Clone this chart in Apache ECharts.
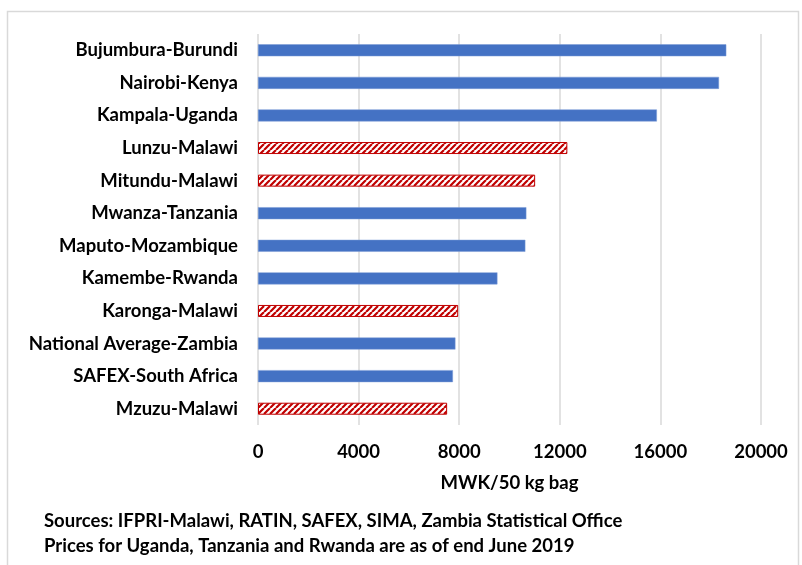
<!DOCTYPE html>
<html><head><meta charset="utf-8">
<script src="https://cdn.jsdelivr.net/npm/echarts@6/dist/echarts.min.js"></script>
<style>html,body{margin:0;padding:0;background:#fff}#c{width:802px;height:565px}</style>
</head><body><div id="c"></div>
<script>
const categories = ["Bujumbura-Burundi","Nairobi-Kenya","Kampala-Uganda","Lunzu-Malawi","Mitundu-Malawi","Mwanza-Tanzania","Maputo-Mozambique","Kamembe-Rwanda","Karonga-Malawi","National Average-Zambia","SAFEX-South Africa","Mzuzu-Malawi"];
const prices = [18620, 18330, 15860, 12300, 11020, 10670, 10630, 9520, 7960, 7850, 7750, 7520];
const isMalawi = [false,false,false,true,true,false,false,false,true,false,false,true];
const xTicks = [0, 4000, 8000, 12000, 16000, 20000];
const axisName = "MWK/50 kg bag";
const notes = ["Sources: IFPRI-Malawi, RATIN, SAFEX, SIMA, Zambia Statistical Office", "Prices for Uganda, Tanzania and Rwanda are as of end June 2019"];

const FONT = 'Lato';
const FS = 18.5;
function hatch(){
  const c = document.createElement('canvas');
  c.width = 6; c.height = 6;
  const g = c.getContext('2d');
  g.fillStyle = '#ffffff'; g.fillRect(0,0,6,6);
  g.strokeStyle = '#C00000'; g.lineWidth = 2.2;
  g.beginPath();
  for (let k = -6; k <= 12; k += 6){ g.moveTo(k, 6); g.lineTo(k+6, 0); }
  g.stroke();
  return c;
}
const pat = {image: hatch(), repeat: 'repeat'};
const data = prices.map((v,i) => ({
  value: v,
  itemStyle: isMalawi[i]
    ? {color: pat, borderColor: '#C00000', borderWidth: 1}
    : {color: '#4472C4', borderColor: '#7a9ad6', borderWidth: 0.5}
}));
const chart = echarts.init(document.getElementById('c'), null, {renderer: 'canvas'});
chart.setOption({
  animation: false,
  backgroundColor: '#fff',
  grid: {left: 258, right: 41, top: 34, bottom: 140},
  xAxis: {
    type: 'value', min: xTicks[0], max: xTicks[xTicks.length-1], interval: 4000,
    name: axisName, nameLocation: 'middle', nameGap: 49,
    nameTextStyle: {fontFamily: FONT, fontWeight: 'bold', fontSize: FS, color: '#000'},
    axisLine: {show: false}, axisTick: {show: false},
    axisLabel: {fontFamily: FONT, fontWeight: 'bold', fontSize: FS, color: '#000', margin: 18,
      formatter: v => String(v)},
    splitLine: {lineStyle: {color: '#d9d9d9', width: 1.5}}
  },
  yAxis: {
    type: 'category', data: categories, inverse: true,
    axisLine: {show: false}, axisTick: {show: false},
    axisLabel: {fontFamily: FONT, fontWeight: 'bold', fontSize: FS, color: '#000', margin: 20}
  },
  series: [{type: 'bar', data: data, barWidth: 12}],
  graphic: [
    {type: 'rect', shape: {x: 7.5, y: 11.5, width: 791, height: 600}, style: {fill: 'none', stroke: '#d9d9d9', lineWidth: 1.5}, silent: true},
    {type: 'text', left: 44, top: 512, style: {text: notes[0], fontFamily: FONT, fontWeight: 'bold', fontSize: FS, fill: '#000'}},
    {type: 'text', left: 44, top: 537, style: {text: notes[1], fontFamily: FONT, fontWeight: 'bold', fontSize: FS, fill: '#000'}}
  ]
});
</script></body></html>
